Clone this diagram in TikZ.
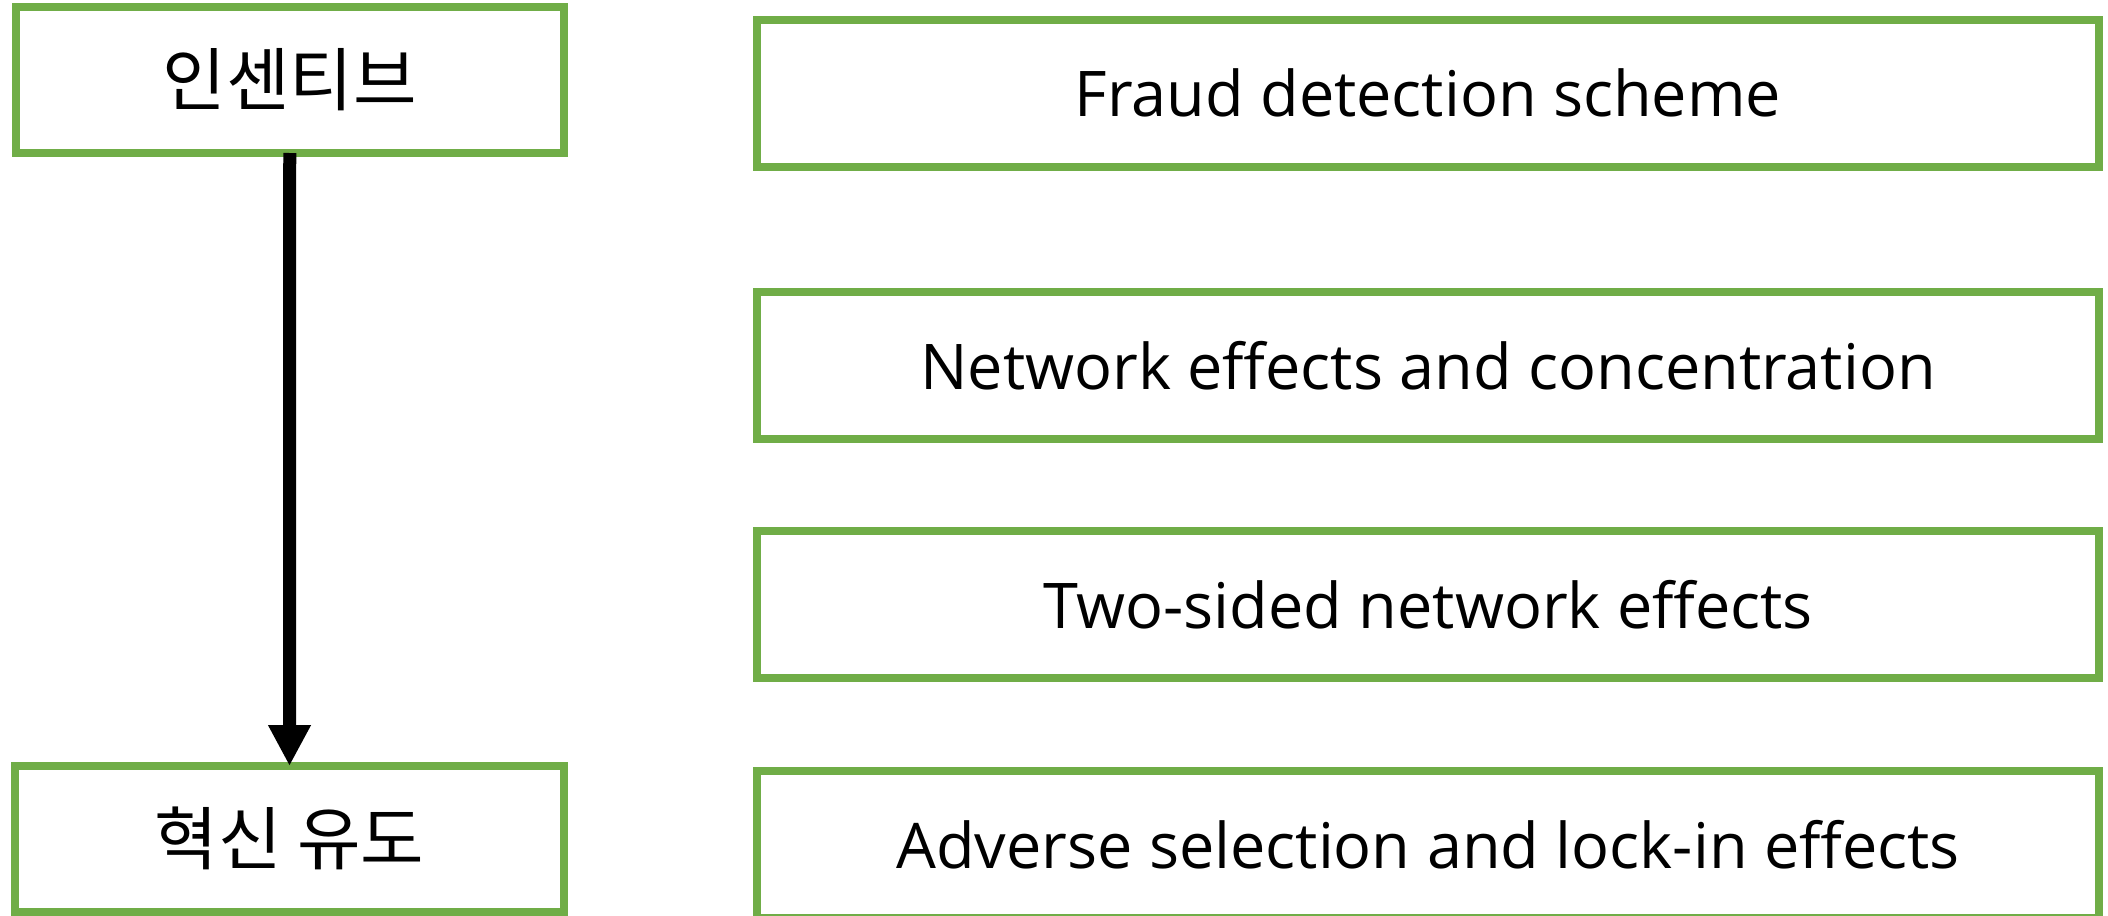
\documentclass[tikz,border=0pt]{standalone}
\usepackage{fontspec}
\setmainfont{Open Sans}
\newfontfamily\kofont{Noto Sans CJK KR}
\usetikzlibrary{arrows.meta}
\definecolor{boxgreen}{HTML}{70AD47}
\tikzset{
  gbox/.style={draw=boxgreen, line width=8pt, fill=white, inner sep=0pt, outer sep=0pt, align=center},
  leftbox/.style={gbox, minimum width=548.5pt, minimum height=145.7pt, font=\kofont\fontsize{69}{75}\selectfont},
  rightbox/.style={gbox, minimum width=1342pt, minimum height=147pt, font=\fontsize{63}{69}\selectfont},
  flow/.style={line width=13pt, -{Triangle[width=40pt,length=41pt]}}
}
\begin{document}
\begin{tikzpicture}[x=1pt,y=-1pt]
\useasboundingbox (0,0) rectangle (2108,915);
\node[leftbox] (inc) at (289.75,80.15) {인센티브};
\node[leftbox] (inn) at (289.5,838.85) {혁신 유도};
\node[rightbox] (r1) at (1428,93.2) {Fraud detection scheme};
\node[rightbox] (r2) at (1428,365.5) {Network effects and concentration};
\node[rightbox] (r3) at (1428,604.7) {Two-sided network effects};
\node[rightbox] (r4) at (1428,844.2) {Adverse selection and lock-in effects};
\draw[flow] (inc.south) -- (inn.north);
\end{tikzpicture}
\end{document}
